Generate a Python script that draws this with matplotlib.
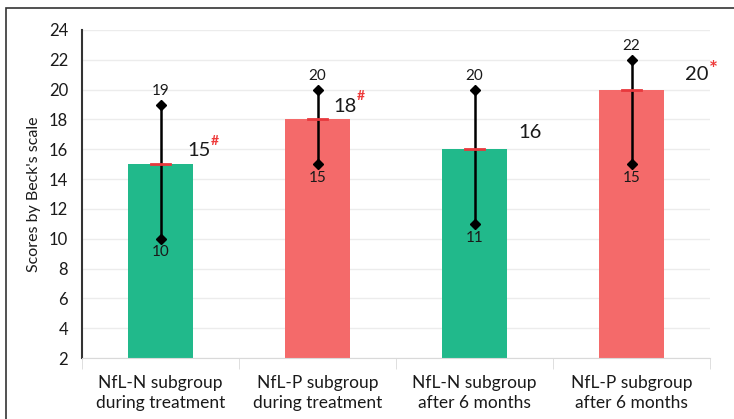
import matplotlib.pyplot as plt
from matplotlib.patches import Rectangle
import numpy as np

plt.rcParams['font.family'] = ['Lato', 'DejaVu Sans']

# data
groups = ["NfL-N subgroup\nduring treatment", "NfL-P subgroup\nduring treatment",
          "NfL-N subgroup\nafter 6 months", "NfL-P subgroup\nafter 6 months"]
means = [15, 18, 16, 20]
lows = [10, 15, 11, 15]
highs = [19, 20, 20, 22]
marks = ["#", "#", "", "*"]

colors = ["#21b98b", "#f46a6a", "#21b98b", "#f46a6a"]
# where each mean label sits, relative to bar centre (layout only)
label_dx = [0.17, 0.10, 0.28, 0.34]
label_dy = [0.9, 0.9, 1.1, 1.0]

fig = plt.figure(figsize=(7.34, 4.19), dpi=100)
ax = fig.add_axes([82 / 734, 1 - 358 / 419, 628 / 734, 328 / 419])

x = np.arange(len(groups))
ax.bar(x, np.array(means) - 2, bottom=2, width=0.42, color=colors, zorder=2)

for i in x:
    ax.plot([i, i], [lows[i], highs[i]], color="black", lw=1.8, zorder=3)
    ax.plot([i, i], [lows[i], highs[i]], ls="none", marker="D", ms=5,
            color="black", zorder=4)
    ax.plot([i - 0.06, i + 0.06], [means[i], means[i]], color="#e8383d",
            lw=2, zorder=5)
    ax.text(i, highs[i] + 0.45, str(highs[i]), ha="center", va="bottom",
            fontsize=11, color="#1a1a1a")
    ax.text(i, lows[i] - 0.45, str(lows[i]), ha="center", va="top",
            fontsize=11, color="#1a1a1a")
    t = ax.text(i + label_dx[i], means[i] + label_dy[i], str(means[i]),
                ha="left", va="center", fontsize=14.5, color="#1a1a1a")
    if marks[i] == "*":
        ax.annotate(marks[i], xy=(1, 0.2), xycoords=t, ha="left",
                    va="bottom", fontsize=15, color="#ee3a3a",
                    fontweight="bold")
    elif marks[i]:
        ax.annotate(marks[i], xy=(1, 0.75), xycoords=t, ha="left",
                    va="bottom", fontsize=10, color="#ee3a3a",
                    fontweight="bold")

ax.set_xlim(-0.5, 3.5)
ax.set_ylim(2, 24)
ax.set_yticks(range(2, 25, 2))
ax.tick_params(axis="y", length=0, labelsize=12, pad=10, labelcolor="#1a1a1a")
ax.set_xticks(x)
ax.set_xticklabels(groups, fontsize=12.5, color="#1a1a1a", linespacing=1.3)
ax.tick_params(axis="x", length=0, pad=12)
ax.set_xticks(np.arange(-0.5, 4, 1), minor=True)
ax.tick_params(axis="x", which="minor", length=8, color="#d9d9d9")
ax.grid(axis="y", color="#ececec", lw=1, zorder=0)
ax.set_axisbelow(True)
ax.set_ylabel("Scores by Beck's scale", fontsize=11.5, labelpad=6,
              color="#1a1a1a")

for s in ["top", "right"]:
    ax.spines[s].set_visible(False)
ax.spines["left"].set_color("#333333")
ax.spines["left"].set_linewidth(1.5)
ax.spines["bottom"].set_color("#d9d9d9")

fig.patches.append(Rectangle((6 / 734, -0.1), 1.2, 1 - 8 / 419 + 0.1,
                             transform=fig.transFigure, fill=False,
                             edgecolor="#333333", lw=1.2))

fig.savefig("out.png", dpi=100)
